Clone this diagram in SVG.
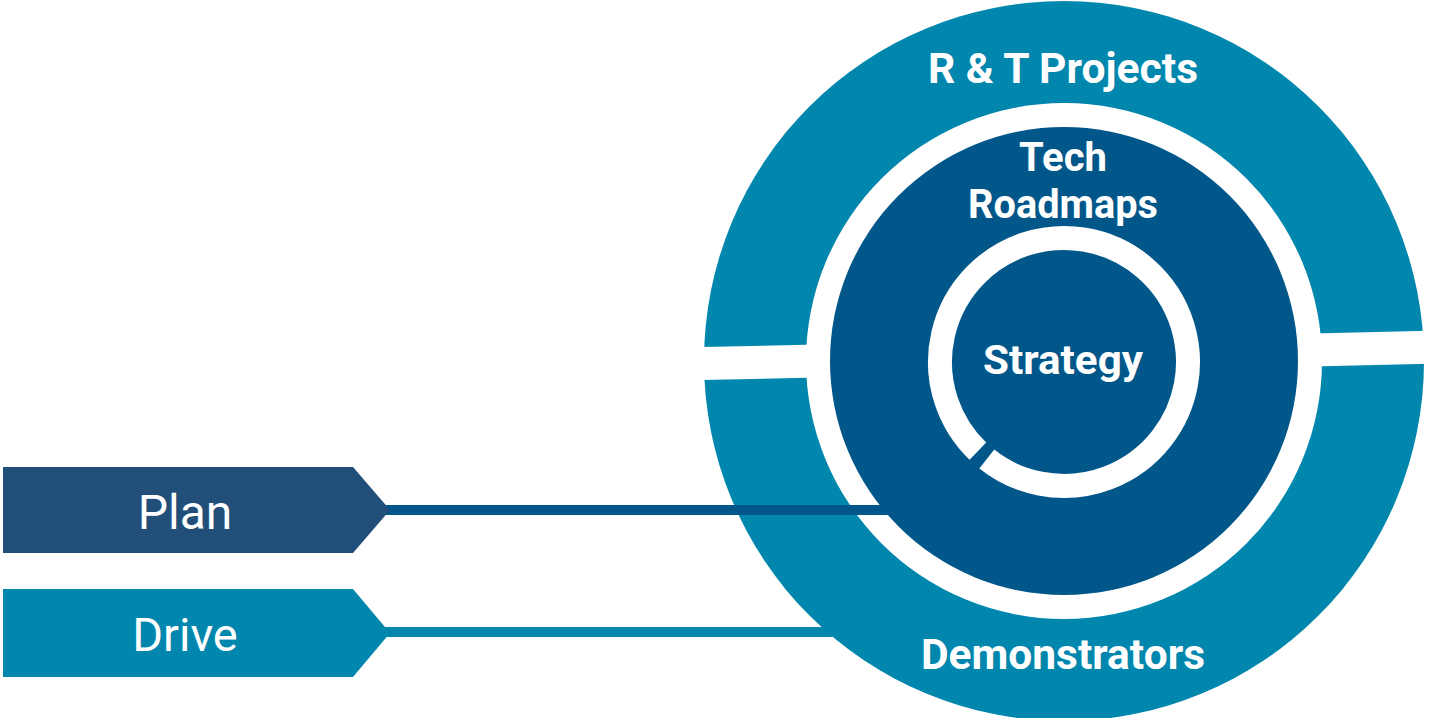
<svg xmlns="http://www.w3.org/2000/svg" width="1429" height="718" viewBox="0 0 1429 718">
  <style>
    .lbl { font-family: Roboto, "Liberation Sans", sans-serif; fill: #ffffff; text-anchor: middle; }
    .bold { font-weight: bold; }
    .teal { fill: #0187AD; }
    .dark { fill: #02578A; }
    .plan { fill: #214F79; }
  </style>
  <rect width="1429" height="718" fill="#ffffff"/>
  <g id="rt-projects">
    <circle class="teal" cx="1064" cy="361" r="360"/>
    <polygon points="690,347.3 1440,330.6 1440,363.6 690,380.3" fill="#ffffff"/>
    <circle cx="1064" cy="361" r="258" fill="#ffffff"/>
    <text class="lbl bold" x="1063" y="83" font-size="42" textLength="270" lengthAdjust="spacingAndGlyphs">R &amp; T Projects</text>
    <text class="lbl bold" x="1063" y="669" font-size="42" textLength="284" lengthAdjust="spacingAndGlyphs">Demonstrators</text>
  </g>
  <g id="tech-roadmaps">
    <circle class="dark" cx="1064" cy="361" r="234"/>
    <text class="lbl bold" x="1063" y="171" font-size="40">Tech</text>
    <text class="lbl bold" x="1063" y="218" font-size="40" textLength="190" lengthAdjust="spacingAndGlyphs">Roadmaps</text>
  </g>
  <g id="strategy">
    <path d="M977.9,451.2 A124,124 0 1 1 986.8,459.0" fill="none" stroke="#ffffff" stroke-width="24"/>
    <text class="lbl bold" x="1063" y="374" font-size="41" textLength="160" lengthAdjust="spacingAndGlyphs">Strategy</text>
  </g>
  <g id="connectors">
    <rect x="378" y="505" width="512" height="10" class="dark"/>
    <rect x="380" y="627" width="460" height="10" class="teal"/>
  </g>
  <g id="plan">
    <polygon class="plan" points="3,467 353,467 390,510 353,553 3,553"/>
    <text class="lbl" x="185" y="529" font-size="48">Plan</text>
  </g>
  <g id="drive">
    <polygon class="teal" points="3,589 353,589 390,633 353,677 3,677"/>
    <text class="lbl" x="185" y="651" font-size="47">Drive</text>
  </g>
</svg>
